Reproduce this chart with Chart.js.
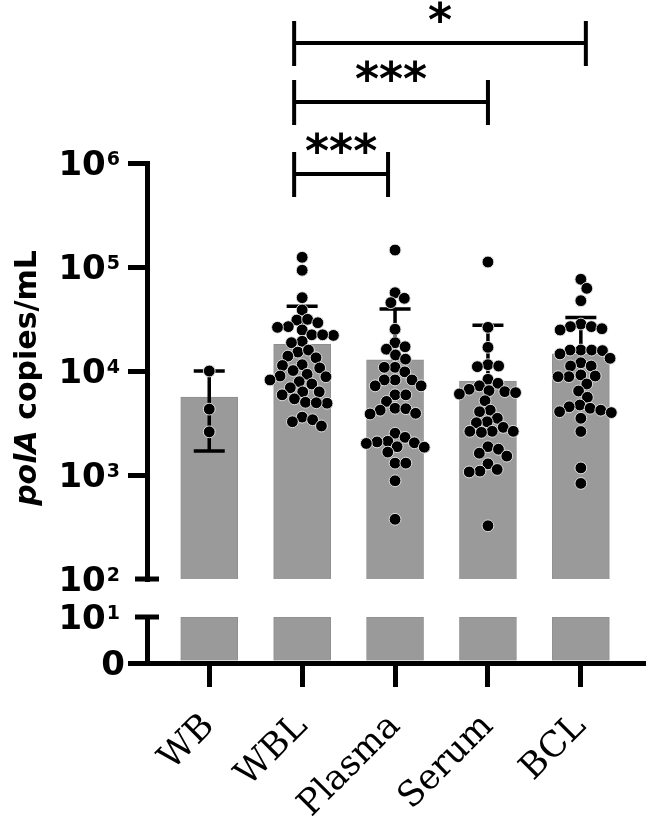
<!DOCTYPE html>
<html>
<head>
<meta charset="utf-8">
<script src="https://cdn.jsdelivr.net/npm/chart.js@4.4.1/dist/chart.umd.min.js"></script>
<style>
  html, body { margin: 0; padding: 0; background: #fff; }
  #chart { display: block; }
</style>
</head>
<body>
<canvas id="chart" width="650" height="816"></canvas>
<script>
const groups = ["WB", "WBL", "Plasma", "Serum", "BCL"];
const means = [5600, 18000, 12800, 8000, 14600];
const sdHigh = [10000, 42000, 39500, 27500, 32700];
const sdLow = [1700, null, null, null, null];

const wbPoints = [10000, 4300, 2600];
const wblPoints = [124000, 93000, 50700, 38600, 30900, 31400, 29100, 26700, 26300, 24800,
  22300, 22000, 22300, 19300, 18700, 15200, 15900, 13400, 13900, 11500, 11300, 10100, 10700,
  9300, 8800, 8950, 8200, 7500, 7900, 6900, 6300, 6300, 5900, 5400, 5000, 4900, 4950,
  3600, 3400, 3250, 2960];
const plasmaPoints = [145600, 56600, 50000, 45400, 25200, 18700, 17100, 16200, 14250, 13000,
  10850, 10850, 9800, 8200, 8200, 8200, 7200, 7200, 5900, 5900, 5100, 4380, 4340, 4200,
  3920, 3860, 2520, 2300, 2110, 2080, 2040, 2010, 1870, 1850, 1660, 1300, 1300, 880, 375];
const serumPoints = [111700, 26300, 16900, 11500, 11170, 11000, 8320, 7620, 7200, 6670, 6470,
  6330, 6190, 6010, 5180, 4200, 4060, 3510, 3250, 3180, 2870, 2630, 2630, 2630, 2570,
  1870, 1770, 1620, 1520, 1280, 1130, 1090, 1070, 325];
const bclPoints = [76200, 62400, 47400, 28300, 26700, 26700, 25500, 24800, 15900, 15900, 15900,
  15700, 14600, 13250, 12000, 11170, 11170, 9160, 8950, 8820, 8820, 7500, 6420, 5590, 4710,
  4530, 4380, 4200, 4060, 3980, 3510, 2620, 1170, 830];

const upperTicks = [100, 1000, 10000, 100000, 1000000];
const upperExps = ["2", "3", "4", "5", "6"];
const lowerTicks = [0, 10];
const lowerLabels = [["0", null], ["10", "1"]];

// pairs of group indexes and the star label
const brackets = [[1, 2, "***"], [1, 3, "***"], [1, 4, "*"]];

const yTitleItalic = "polA";
const yTitleRest = " copies/mL";

const sets = [wbPoints, wblPoints, plasmaPoints, serumPoints, bclPoints];
const BAR_INDEX = sets.length;

const pointDatasets = sets.map((vals, gi) => ({
  type: "scatter",
  data: vals.map(v => ({ x: gi, y: v })),
  yAxisID: "y",
  backgroundColor: "#000",
  borderColor: "rgba(235,235,235,0.9)",
  borderWidth: 1,
  pointRadius: 5.9,
  order: 0
}));

const blackGrid = (len) => ({
  display: true, drawOnChartArea: false, drawTicks: true, offset: false,
  tickLength: len, color: "#000", lineWidth: 5
});
const blackBorder = { display: true, color: "#000", width: 5 };

const extras = {
  id: "extras",
  afterDatasetDraw(chart, args) {
    if (args.index !== BAR_INDEX) return;
    const ctx = chart.ctx, xs = chart.scales.x, ys = chart.scales.y;
    ctx.save();
    ctx.strokeStyle = "#000";
    ctx.lineWidth = 3.5;
    groups.forEach((g, i) => {
      const x = xs.getPixelForValue(i);
      const top = ys.getPixelForValue(sdHigh[i]);
      const bot = ys.getPixelForValue(sdLow[i] !== null ? sdLow[i] : means[i]);
      ctx.beginPath();
      ctx.moveTo(x, top); ctx.lineTo(x, bot);
      ctx.moveTo(x - 15.5, top); ctx.lineTo(x + 15.5, top);
      if (sdLow[i] !== null) { ctx.moveTo(x - 15.5, bot); ctx.lineTo(x + 15.5, bot); }
      ctx.stroke();
    });
    ctx.restore();
  },
  afterDraw(chart) {
    const ctx = chart.ctx, xs = chart.scales.x, ys = chart.scales.y, yl = chart.scales.yLow;
    const axisX = ys.right;
    ctx.save();
    ctx.fillStyle = "#000";
    ctx.strokeStyle = "#000";

    // axis break marks
    ctx.lineWidth = 5;
    [ys.getPixelForValue(upperTicks[0]), yl.getPixelForValue(lowerTicks[1])].forEach(y => {
      ctx.beginPath();
      ctx.moveTo(axisX - 12, y); ctx.lineTo(axisX + 12, y);
      ctx.stroke();
    });

    // tick labels with exponents
    const drawLabel = (right, y, base, exp) => {
      ctx.textAlign = "right";
      ctx.textBaseline = "alphabetic";
      let r = right;
      if (exp) {
        ctx.font = 'bold 19px "DejaVu Sans"';
        const w = ctx.measureText(exp).width;
        ctx.fillText(exp, r, y + 2);
        r -= w + 1;
      }
      ctx.font = 'bold 34px "DejaVu Sans"';
      ctx.fillText(base, r, y + 12.4);
    };
    upperTicks.forEach((v, i) => drawLabel(axisX - 27, ys.getPixelForValue(v), "10", upperExps[i]));
    lowerTicks.forEach((v, i) => {
      const [base, exp] = lowerLabels[i];
      drawLabel(exp ? axisX - 27 : axisX - 22, yl.getPixelForValue(v), base, exp);
    });

    // y title
    ctx.save();
    ctx.translate(36, 378);
    ctx.rotate(-Math.PI / 2);
    ctx.textAlign = "left";
    ctx.textBaseline = "alphabetic";
    const f1 = 'italic bold 30px "DejaVu Sans"', f2 = 'bold 30px "DejaVu Sans"';
    ctx.font = f1; const w1 = ctx.measureText(yTitleItalic).width;
    ctx.font = f2; const w2 = ctx.measureText(yTitleRest).width;
    const sx = -(w1 + w2) / 2;
    ctx.font = f1; ctx.fillText(yTitleItalic, sx, 0);
    ctx.font = f2; ctx.fillText(yTitleRest, sx + w1, 0);
    ctx.restore();

    // significance brackets
    const lineY = [174, 102, 43];
    const nudge = [[-8, -7], [-8, 0], [-8, 5]];
    ctx.lineWidth = 4;
    brackets.forEach(([a, b, label], k) => {
      const x1 = xs.getPixelForValue(a) + nudge[k][0];
      const x2 = xs.getPixelForValue(b) + nudge[k][1];
      const y = lineY[k];
      ctx.beginPath();
      ctx.moveTo(x1, y - 22); ctx.lineTo(x1, y + 23);
      ctx.moveTo(x2, y - 22); ctx.lineTo(x2, y + 23);
      ctx.moveTo(x1, y); ctx.lineTo(x2, y);
      ctx.stroke();
      ctx.font = 'bold 46px "DejaVu Sans"';
      ctx.textAlign = "center";
      ctx.textBaseline = "alphabetic";
      const m = ctx.measureText(label);
      const cy = y - 31;
      ctx.fillText(label, (x1 + x2) / 2, cy + (m.actualBoundingBoxAscent - m.actualBoundingBoxDescent) / 2);
    });
    ctx.restore();
  }
};

const config = {
  type: "bar",
  data: {
    datasets: [
      ...pointDatasets,
      {
        type: "bar",
        data: means.map((m, i) => ({ x: i, y: m })),
        yAxisID: "y",
        base: 100,
        backgroundColor: "#9a9a9a",
        borderColor: "#8e8e8e",
        borderWidth: 1,
        barThickness: 57,
        grouped: false,
        order: 1
      },
      {
        type: "bar",
        data: means.map((m, i) => ({ x: i, y: Math.min(m, lowerTicks[1]) })),
        yAxisID: "yLow",
        backgroundColor: "#9a9a9a",
        borderColor: "#8e8e8e",
        borderWidth: 1,
        barThickness: 57,
        grouped: false,
        order: 1
      }
    ]
  },
  options: {
    responsive: false,
    animation: false,
    devicePixelRatio: 1,
    layout: { padding: { left: 126, top: 163, right: 3, bottom: 0 } },
    plugins: { legend: { display: false }, tooltip: { enabled: false } },
    scales: {
      x: {
        type: "linear", min: -0.67, max: 4.67, offset: false,
        afterBuildTicks: s => { s.ticks = groups.map((g, i) => ({ value: i })); },
        afterFit: s => { s.height = 153; },
        border: blackBorder,
        grid: blackGrid(24),
        ticks: {
          autoSkip: false, minRotation: 45, maxRotation: 45, padding: 19, color: "#000",
          font: { family: "DejaVu Serif", size: 35 },
          callback: v => groups[v]
        }
      },
      y: {
        type: "logarithmic", min: upperTicks[0], max: upperTicks[upperTicks.length - 1],
        position: "left", stack: "left", stackWeight: 416, weight: 3,
        afterBuildTicks: s => { s.ticks = upperTicks.slice(1).map(v => ({ value: v })); },
        afterFit: s => { s.width = 21; },
        border: blackBorder,
        grid: blackGrid(19),
        ticks: { display: false }
      },
      yGap: {
        type: "linear", min: 0, max: 1,
        position: "left", stack: "left", stackWeight: 38, weight: 2,
        afterFit: s => { s.width = 21; },
        border: { display: false },
        grid: { display: false },
        ticks: { display: false }
      },
      yLow: {
        type: "linear", min: lowerTicks[0], max: lowerTicks[1],
        position: "left", stack: "left", stackWeight: 46, weight: 1,
        afterBuildTicks: s => { s.ticks = [{ value: lowerTicks[0] }]; },
        afterFit: s => { s.width = 21; },
        border: blackBorder,
        grid: blackGrid(19),
        ticks: { display: false }
      }
    }
  },
  plugins: [extras]
};

const chart = new Chart(document.getElementById("chart"), config);

// spread the dots of each group sideways like a swarm, in pixel space
function swarmOffsets(pixYs, d) {
  const idx = pixYs.map((y, i) => i).sort((a, b) => pixYs[a] - pixYs[b]);
  const placed = [];
  const offs = new Array(pixYs.length).fill(0);
  idx.forEach(i => {
    const y = pixYs[i];
    const near = placed.filter(p => Math.abs(p.y - y) < d);
    const cands = [0];
    near.forEach(p => {
      const dx = Math.sqrt(d * d - (p.y - y) * (p.y - y));
      cands.push(p.x + dx, p.x - dx);
    });
    cands.sort((a, b) => Math.abs(a) - Math.abs(b));
    const ok = cands.find(c => near.every(p => (p.x - c) ** 2 + (p.y - y) ** 2 >= d * d - 0.01));
    offs[i] = ok;
    placed.push({ x: ok, y });
  });
  return offs;
}

const xs = chart.scales.x, ys = chart.scales.y;
const unit = xs.getPixelForValue(1) - xs.getPixelForValue(0);
sets.forEach((vals, gi) => {
  const offs = swarmOffsets(vals.map(v => ys.getPixelForValue(v)), 10.8);
  chart.data.datasets[gi].data = vals.map((v, j) => ({ x: gi + offs[j] / unit, y: v }));
});
chart.update();
</script>
</body>
</html>
